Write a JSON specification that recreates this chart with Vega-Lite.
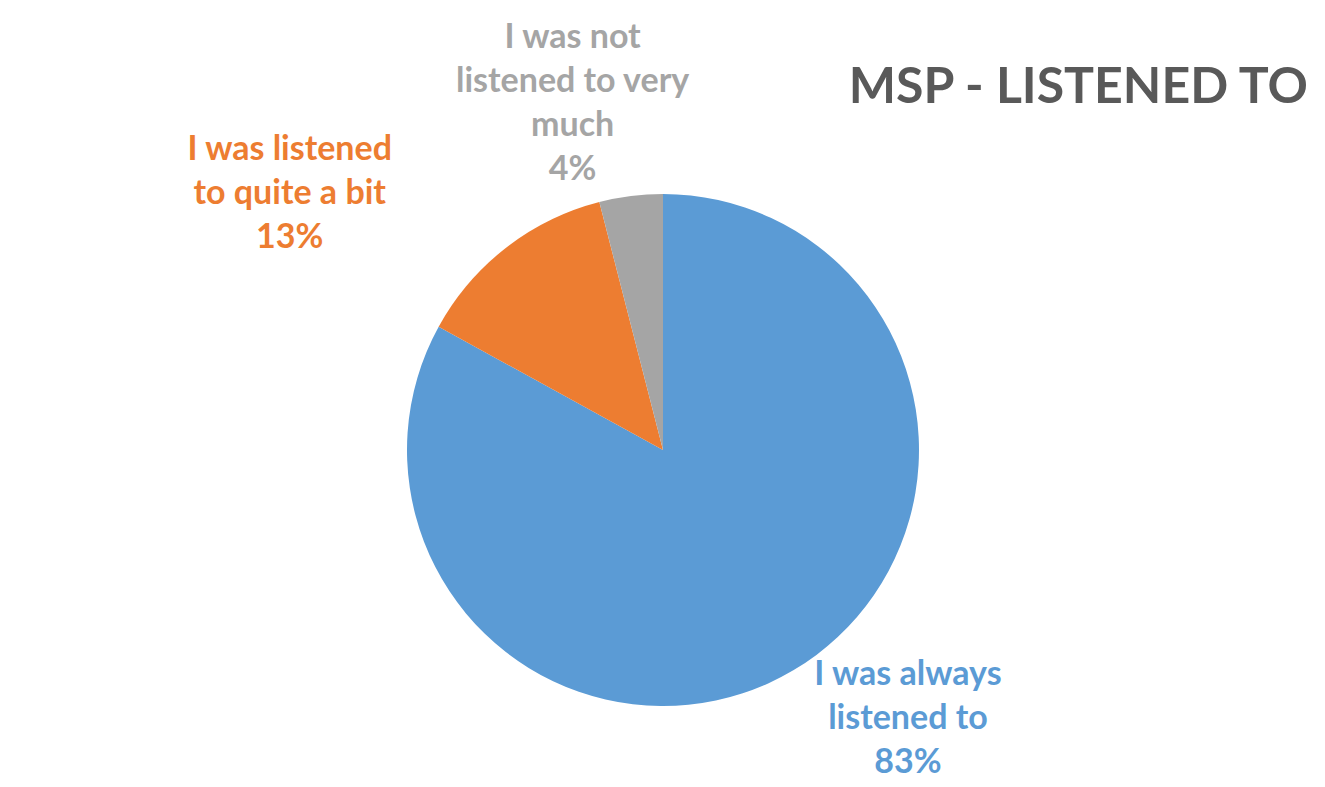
{
  "$schema": "https://vega.github.io/schema/vega-lite/v6.json",
  "autosize": {"type": "none"},
  "width": 1290,
  "height": 674,
  "padding": {"left": 18, "top": 113, "right": 17, "bottom": 0},
  "background": "white",
  "config": {"view": {"stroke": null}, "font": "Lato"},
  "title": {
    "text": "MSP - LISTENED TO",
    "anchor": "end",
    "frame": "group",
    "fontSize": 50,
    "font": "Lato",
    "fontWeight": "bold",
    "color": "#595959",
    "baseline": "alphabetic",
    "offset": 11,
    "dy": 143
  },
  "data": {
    "values": [
      {"response": "I was always listened to", "pct": 83, "label": "I was always\nlistened to\n83%"},
      {"response": "I was listened to quite a bit", "pct": 13, "label": "I was listened\nto quite a bit\n13%"},
      {"response": "I was not listened to very much", "pct": 4, "label": "I was not\nlistened to very\nmuch\n4%"}
    ]
  },
  "encoding": {
    "theta": {"field": "pct", "type": "quantitative", "stack": true},
    "color": {
      "field": "response",
      "type": "nominal",
      "scale": {
        "domain": ["I was always listened to", "I was listened to quite a bit", "I was not listened to very much"],
        "range": ["#5B9BD5", "#ED7D31", "#A5A5A5"]
      },
      "legend": null
    }
  },
  "layer": [
    {"mark": {"type": "arc", "outerRadius": 256, "stroke": null}},
    {
      "mark": {
        "type": "text",
        "radius": 330,
        "fontSize": 34,
        "fontWeight": "bold",
        "font": "Lato",
        "lineBreak": "\n",
        "lineHeight": 44,
        "align": "center",
        "baseline": "middle",
        "dx": {"expr": "datum.response === 'I was always listened to' ? 77 : datum.response === 'I was listened to quite a bit' ? -171 : -49"},
        "dy": {"expr": "datum.response === 'I was always listened to' ? -59 : datum.response === 'I was listened to quite a bit' ? -39 : -85"}
      },
      "encoding": {"text": {"field": "label", "type": "nominal"}}
    }
  ]
}
